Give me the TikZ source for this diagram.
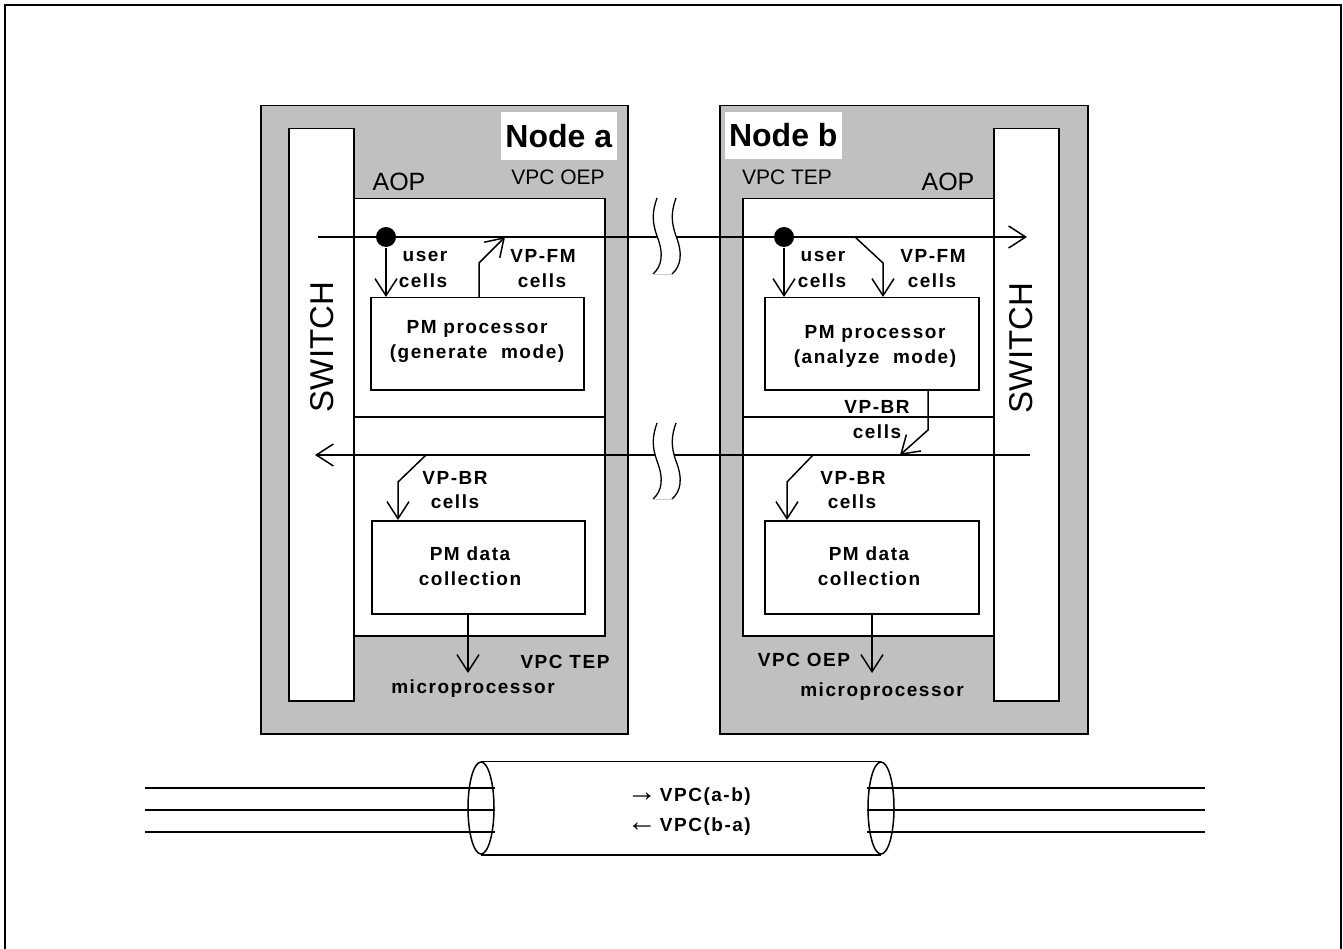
\documentclass[tikz,border=0pt]{standalone}
\usepackage{fontspec}
\setmainfont{Liberation Sans}
\newfontfamily\lblfont{Liberation Sans}[LetterSpace=8]
\usetikzlibrary{arrows.meta,shapes.geometric,calc}
\definecolor{panel}{RGB}{192,192,192}
\begin{document}
\begin{tikzpicture}[x=1pt,y=-1pt,line width=1.5pt,
  box/.style={draw,rectangle,anchor=north west,inner sep=0pt,line width=1.5pt},
  titlebox/.style={fill=white,rectangle,anchor=north west,inner sep=0pt,font=\bfseries\fontsize{32}{36}\selectfont},
  lab/.style={font=\lblfont\bfseries\fontsize{19}{25}\selectfont,inner sep=0pt,align=center},
  plain/.style={font=\fontsize{21}{25}\selectfont,inner sep=0pt},
  big/.style={font=\fontsize{25}{28}\selectfont,inner sep=0pt},
  sw/.style={font=\fontsize{33}{36}\selectfont,inner sep=0pt,rotate=90},
  arr/.style={-{Straight Barb[length=17pt,width=22pt]}},
  dot/.style={circle,fill=black,inner sep=0pt,minimum size=20pt},
  brk/.style={line width=1.3pt}
]
\useasboundingbox (0,0) rectangle (1343,949);
% outer frame
\draw (5,949) -- (5,5) -- (1341,5) -- (1341,949);

% grey panels
\node[box,fill=panel,minimum width=367pt,minimum height=628pt] (nodeA) at (260,105) {};
\node[box,fill=panel,minimum width=368pt,minimum height=628pt] (nodeB) at (719,105) {};
% switches
\node[box,fill=white,minimum width=65pt,minimum height=572pt] (swA) at (288,128) {};
\node[box,fill=white,minimum width=65pt,minimum height=572pt] (swB) at (993,128) {};
\node[sw] (swAt) at (322,347) {SWITCH};
\node[sw] (swBt) at (1021,348) {SWITCH};
% AOP boxes
\node[box,fill=white,minimum width=251pt,minimum height=437pt] (aopA) at (353,198) {};
\node[box,fill=white,minimum width=251pt,minimum height=437pt] (aopB) at (742,198) {};
\draw (aopA.west |- 0,417) coordinate (dA1) -- (aopA.east |- 0,417) coordinate (dA2);
\draw (aopB.west |- 0,417) coordinate (dB1) -- (aopB.east |- 0,417) coordinate (dB2);
% titles
\node[titlebox,minimum width=116pt,minimum height=48pt] (titleA) at (500,111) {Node a};
\node[titlebox,minimum width=117pt,minimum height=47pt] (titleB) at (724,111) {Node b};
\node[big] (aopAt) at (399,182) {AOP};
\node[plain] (oepA) at (558,177) {VPC OEP};
\node[plain] (tepB) at (787,177) {VPC TEP};
\node[big] (aopBt) at (948,182) {AOP};

% processor boxes
\node[box,minimum width=213pt,minimum height=92pt] (procA) at (370,297) {};
\node[box,minimum width=214pt,minimum height=92pt] (procB) at (764,297) {};
\node[lab] (procAt) at (477,341) {PM processor\\(generate~~mode)};
\node[lab] (procBt) at (875,346) {PM processor\\(analyze~~mode)};
\node[box,minimum width=213pt,minimum height=93pt] (dataA) at (371,520) {};
\node[box,minimum width=214pt,minimum height=93pt] (dataB) at (764,520) {};
\node[lab] (dataAt) at (470,566) {PM data\\collection};
\node[lab] (dataBt) at (869,566) {PM data\\collection};

% forward and backward lines
\coordinate (fwdS) at (318,237);
\coordinate (fwdE) at (1027,237);
\coordinate (bwdS) at (1030,455);
\coordinate (bwdE) at (315,455);
\draw[arr] (fwdS) -- (fwdE);
\draw[arr] (bwdS) -- (bwdE);
\node[dot] (dotA) at (386,237) {};
\node[dot] (dotB) at (784,237) {};

% node a connectors
\draw[arr] (dotA) -- (dotA |- procA.north);
\coordinate (fmA) at (479,297);
\draw[arr] (fmA) -- (479,263) -- (505,237);
\coordinate (brA) at (426,455);
\draw[arr] (brA) -- (398,482) -- (398,520);
\coordinate (mpA) at (468,613);
\draw[arr] (mpA) -- (468,673);

% node b connectors
\draw[arr] (dotB) -- (dotB |- procB.north);
\coordinate (fmB) at (855,237);
\draw[arr] (fmB) -- (883,263) -- (883,297);
\coordinate (brB0) at (928,389);
\draw[arr] (brB0) -- (928,430) -- (900,455);
\coordinate (brB) at (813,455);
\draw[arr] (brB) -- (787,482) -- (787,520);
\coordinate (mpB) at (872,613);
\draw[arr] (mpB) -- (872,673);

% labels
\node[lab] (uA1) at (425,256) {user};
\node[lab] (uA2) at (423,281) {cells};
\node[lab] (fA1) at (543,256) {VP-FM};
\node[lab] (fA2) at (542,281) {cells};
\node[lab] (bA1) at (455,478) {VP-BR};
\node[lab] (bA2) at (455,502) {cells};
\node[lab] (mA) at (473,689) {microprocessor};
\node[lab] (tepA) at (565,662) {VPC TEP};

\node[lab] (uB1) at (823,256) {user};
\node[lab] (uB2) at (822,281) {cells};
\node[lab] (fB1) at (933,256) {VP-FM};
\node[lab] (fB2) at (932,281) {cells};
\node[lab] (bB1) at (877,407) {VP-BR};
\node[lab] (bB2) at (877,432) {cells};
\node[lab] (bB3) at (853,478) {VP-BR};
\node[lab] (bB4) at (852,502) {cells};
\node[lab] (mB) at (882,692) {microprocessor};
\node[lab] (oepB) at (804,660) {VPC OEP};

% break marks
\foreach \dy in {0,225} {
  \fill[white] (657,198+\dy) .. controls (652,212+\dy) and (652,222+\dy) .. (657,236+\dy)
     .. controls (664,254+\dy) and (662,266+\dy) .. (653,274+\dy) -- (672,274+\dy)
     .. controls (681,266+\dy) and (683,254+\dy) .. (676,236+\dy)
     .. controls (671,222+\dy) and (671,212+\dy) .. (676,198+\dy) -- cycle;
  \draw[brk] (657,198+\dy) .. controls (652,212+\dy) and (652,222+\dy) .. (657,236+\dy)
     .. controls (664,254+\dy) and (662,266+\dy) .. (653,274+\dy);
  \draw[brk] (676,198+\dy) .. controls (671,212+\dy) and (671,222+\dy) .. (676,236+\dy)
     .. controls (683,254+\dy) and (681,266+\dy) .. (672,274+\dy);
  \draw[gray!40,line width=0.6pt] (653,274+\dy) -- (672,274+\dy);
}

% cylinder
\node[draw,ellipse,minimum width=26pt,minimum height=92pt,inner sep=0pt] (cylL) at (481,808) {};
\node[draw,ellipse,minimum width=26pt,minimum height=92pt,inner sep=0pt] (cylR) at (881,808) {};
\draw (cylL.north) -- (cylR.north);
\draw (cylL.south) -- (cylR.south);
\foreach \yy/\nm in {788/a,810/b,832/c} {
  \coordinate (ll\nm) at (145,\yy);
  \coordinate (rr\nm) at (1205,\yy);
  \draw (ll\nm) -- (ll\nm -| cylL.east);
  \draw (cylR.west |- rr\nm) -- (rr\nm);
}
\node[lab,anchor=west] (vab) at (626,797) {{\fontsize{30}{30}\selectfont →}\,VPC(a-b)};
\node[lab,anchor=west] (vba) at (626,827) {{\fontsize{30}{30}\selectfont ←}\,VPC(b-a)};
\end{tikzpicture}
\end{document}
